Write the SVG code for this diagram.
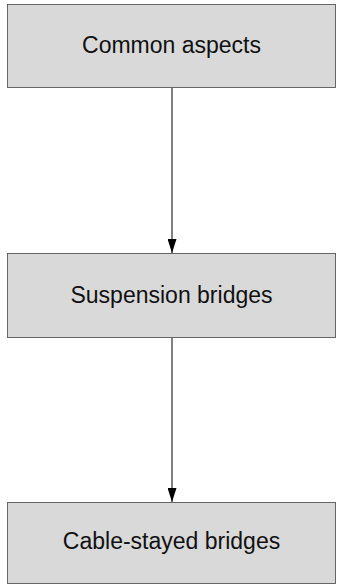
<svg xmlns="http://www.w3.org/2000/svg" width="337" height="585" viewBox="0 0 337 585">
<style>
.box{fill:#d9d9d9;stroke:#666666;stroke-width:1}
.lbl{font-family:"Liberation Sans",Arial,sans-serif;font-size:23px;fill:#111111;text-anchor:middle}
.edge{stroke:#000000;stroke-width:1;fill:none}
</style>
<defs>
<marker id="arr" markerWidth="14" markerHeight="9" refX="14" refY="4.5" orient="auto" markerUnits="userSpaceOnUse" viewBox="0 0 14 9">
<path d="M0,0 L14,4.5 L0,9 Z" fill="#000"/>
</marker>
</defs>
<g id="edges">
<line class="edge" x1="172" y1="87.5" x2="172" y2="253" marker-end="url(#arr)"/>
<line class="edge" x1="172" y1="337.5" x2="172" y2="502" marker-end="url(#arr)"/>
</g>
<g id="n1">
<rect class="box" x="7.5" y="4.5" width="328" height="83"/>
<text class="lbl" x="171.5" y="53">Common aspects</text>
</g>
<g id="n2">
<rect class="box" x="7.5" y="253.5" width="328" height="84"/>
<text class="lbl" x="171.5" y="303">Suspension bridges</text>
</g>
<g id="n3">
<rect class="box" x="7.5" y="502.5" width="328" height="81"/>
<text class="lbl" x="171.5" y="549">Cable-stayed bridges</text>
</g>
</svg>
